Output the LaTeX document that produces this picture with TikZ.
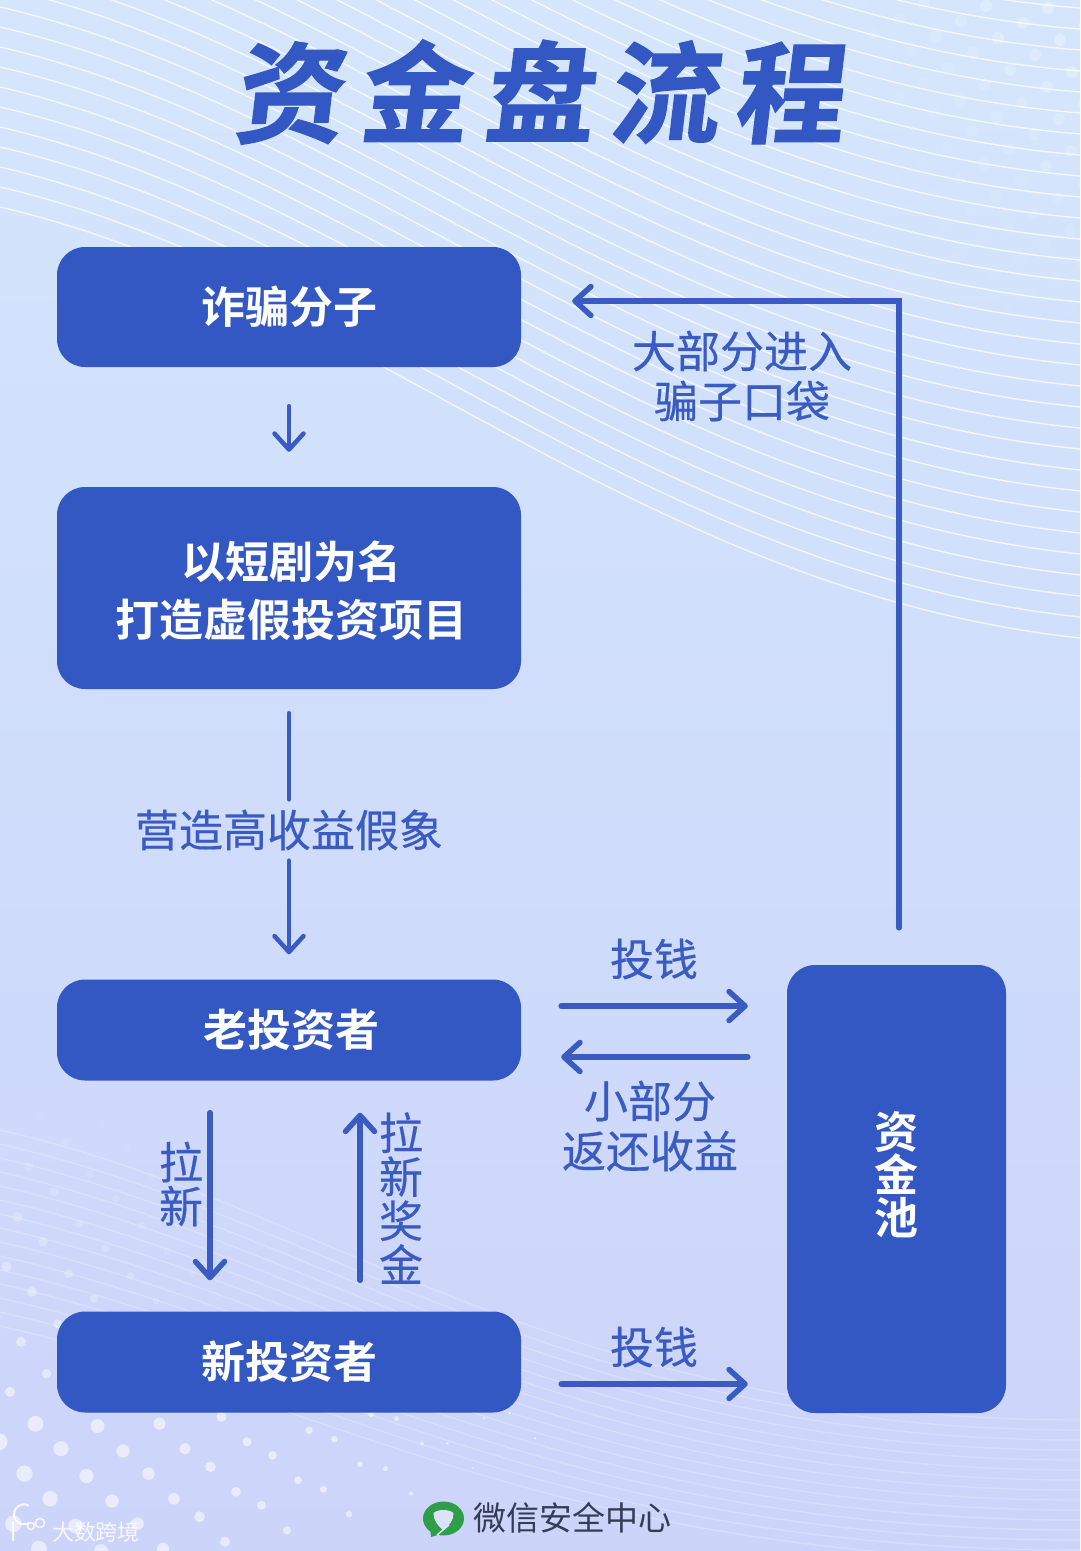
\documentclass[tikz,border=0pt]{standalone}
\usepackage{fontspec}
\usetikzlibrary{arrows.meta,calc}
\setmainfont{Noto Sans CJK SC}
\newfontfamily\cjk[BoldFont={Noto Sans CJK SC Bold}]{Noto Sans CJK SC}
\newfontfamily\cjkm[FakeBold=0.4]{Noto Sans CJK SC}
\newfontfamily\titlef[FakeSlant=0.12,FakeBold=1.2]{Noto Sans CJK SC Bold}
\definecolor{boxblue}{HTML}{3358C4}
\definecolor{lineblue}{HTML}{3A5CC2}
\definecolor{wxgreen}{HTML}{2E9E48}
\definecolor{wxtext}{HTML}{353C55}
\definecolor{bgtop}{HTML}{D5E6FC}
\definecolor{bgmid}{HTML}{CFDDFB}
\definecolor{bgbot}{HTML}{CDD4FA}
\definecolor{wxinner}{HTML}{DDE2FC}
\tikzset{
  x=1pt,y=-1pt,
  flowbox/.style={fill=boxblue,rounded corners=28pt,inner sep=0pt,minimum width=464pt,text=white,font=\cjk\bfseries\fontsize{44}{58}\selectfont,align=center},
  lbl/.style={text=lineblue,font=\cjkm\fontsize{44}{50}\selectfont,align=center,inner sep=0pt},
  arr/.style={draw=lineblue,line width=5.5pt,line cap=round,line join=miter,-{Straight Barb[length=16pt,width=29pt,round]}},
  plainline/.style={draw=lineblue,line width=4.5pt,line cap=round},
  wavy/.style={draw=white,line width=1.4pt,opacity=0.72},
}
\begin{document}
\begin{tikzpicture}
\useasboundingbox (0,0) rectangle (1080,1551);
% background
\shade[top color=bgtop,bottom color=bgmid] (0,0) rectangle (1080,776);
\shade[top color=bgmid,bottom color=bgbot] (0,776) rectangle (1080,1551);
% upper flowing lines
\foreach \i in {0,...,34}{
  \pgfmathsetmacro{\ya}{207-20*\i}
  \pgfmathsetmacro{\yb}{290-20*\i}
  \pgfmathsetmacro{\yc}{590-20.5*\i}
  \pgfmathsetmacro{\yd}{638-21*\i}
  \draw[wavy] (0,\ya) .. controls (360,\yb) and (640,\yc) .. (1080,\yd);
}
% lower faint lines
\foreach \i in {0,...,14}{
  \pgfmathsetmacro{\ya}{1130+14*\i}
  \pgfmathsetmacro{\yb}{1205+14*\i}
  \pgfmathsetmacro{\yc}{1420+10*\i}
  \pgfmathsetmacro{\yd}{1420+10*\i}
  \draw[wavy,opacity=0.22] (0,\ya) .. controls (330,\yb) and (560,\yc) .. (1080,\yd);
}
% upper right dots
\foreach \i in {-6,...,8}{
  \foreach \j in {-4,...,12}{
    \pgfmathsetmacro{\dx}{1060-37*\i+12*\j}
    \pgfmathsetmacro{\dy}{40-17*\i+32*\j}
    \pgfmathsetmacro{\dop}{0.36*max(0,min(1,(\dx-835)/245))*max(0,min(1,1-\dy/340))}
    \pgfmathsetmacro{\dvis}{(\dop>0.01 && \dy>-10) ? 1 : 0}
    \ifnum\dvis=1
      \fill[white,opacity=\dop] (\dx,\dy) circle[radius=6];
    \fi
  }
}
% lower left dots
\foreach \r in {-15,...,4}{
  \foreach \i in {-1,...,8}{
    \pgfmathsetmacro{\dodd}{mod(\r+30,2)}
    \pgfmathsetmacro{\dx}{61-5.5*\r-31*\dodd+62*\i}
    \pgfmathsetmacro{\dy}{1451+25*\r-2.3*(\i-1)*(\i-1)}
    \pgfmathsetmacro{\dr}{max(1.2,8.5-\dx/65)*(\dy<1400?0.6:1)}
    \pgfmathsetmacro{\dop}{0.55*max(0,min(1,(\dy-1080)/300))*max(0,min(1,(\dy<1400?1-\dx/260:1)))}
    \pgfmathsetmacro{\dvis}{(\dop>0.01 && \dx>-10) ? 1 : 0}
    \ifnum\dvis=1
      \fill[white,opacity=\dop] (\dx,\dy) circle[radius=\dr];
    \fi
  }
}
% title
\node (title) at (538,92) {\titlef\fontsize{110}{110}\selectfont\color{boxblue}资\kern15pt金\kern15pt盘\kern15pt流\kern15pt程};
% boxes
\node[flowbox,minimum height=120pt] (b1) at (289,307) {诈骗分子};
\node[flowbox,minimum height=202pt] (b2) at (289,588) {\rule{0pt}{43pt}\kern4pt 以短剧为名\\\kern4pt 打造虚假投资项目};
\node[flowbox,minimum height=101pt] (b3) at (289,1030) {\kern4pt 老投资者};
\node[flowbox,minimum height=101pt] (b4) at (289,1362) {新投资者};
\node[flowbox,minimum width=219pt,minimum height=448pt] (pool) at (896.5,1189) {};
\node[text=white,font=\cjk\bfseries\fontsize{44}{43}\selectfont,align=center,inner sep=0pt] (poolt) at (896,1175) {资\\金\\池};
% labels
\node[lbl] (lhigh) at (289,830) {营造高收益假象};
\node[lbl] (lbig) at (742,376) {大部分进入\\骗子口袋};
\node[lbl] (lin1) at (654,959) {投钱};
\node[lbl] (lback) at (650,1126) {小部分\\返还收益};
\node[lbl] (lin2) at (654,1347) {投钱};
\node[lbl,font=\cjkm\fontsize{44}{44}\selectfont] (lpull) at (181,1184) {拉\\新};
\node[lbl,font=\cjkm\fontsize{44}{44}\selectfont] (lbonus) at (401,1198) {拉\\新\\奖\\金};
% helper coordinates for free ends
\coordinate (ya) at (0,1006);
\coordinate (yb) at (0,1057);
\coordinate (yc) at (0,1384);
\coordinate (xa) at (210,0);
\coordinate (xb) at (360,0);
\coordinate (corner) at (899,301);
% connectors
\draw[arr,line width=4.5pt,shorten <=39pt,shorten >=35pt] (b1.south) -- (b2.north);
\draw[plainline,shorten <=24pt,shorten >=10pt] (b2.south) -- (lhigh.north);
\draw[arr,line width=4.5pt,shorten <=10pt,shorten >=25pt] (lhigh.south) -- (b3.north);
\draw[arr,shorten <=40pt,shorten >=39pt] (b3.east |- ya) -- (pool.west |- ya);
\draw[arr,shorten <=39pt,shorten >=40pt] (pool.west |- yb) -- (b3.east |- yb);
\draw[arr,shorten <=40pt,shorten >=39pt] (b4.east |- yc) -- (pool.west |- yc);
\draw[arr,shorten <=32pt,shorten >=31pt] (xa |- b3.south) -- (xa |- b4.north);
\draw[arr,shorten <=31pt,shorten >=32pt] (xb |- b4.north) -- (xb |- b3.south);
\draw[arr,shorten <=37pt,shorten >=51pt] (corner |- pool.north) -- (corner) -- (b1.east |- corner);
% footer
\node[inner sep=0pt,text=wxtext,font=\cjk\fontsize{33}{33}\selectfont] (wx) at (572,1518) {微信安全中心};
\fill[wxgreen] (443.5,1518.5) ellipse[x radius=20.5,y radius=17];
\fill[wxgreen] (430,1526) -- (431,1537) -- (444,1533) -- cycle;
\fill[wxinner] (433.5,1513) .. controls (438,1509) and (449,1509) .. (453.5,1513) .. controls (454,1520) and (449,1526) .. (443,1530) .. controls (438,1526) and (433,1520) .. (433.5,1513) -- cycle;
\draw[wxinner,line width=1.5pt] (437,1535) -- (449,1525);
\node[inner sep=0pt,text=white,opacity=.85,font=\cjk\fontsize{22}{22}\selectfont] (wm) at (96,1532) {大数跨境};
\draw[white,opacity=.85,line width=2pt] (13,1521) -- (13,1541) (29,1523) arc[start angle=60,end angle=300,radius=10];
\draw[white,opacity=.85,line width=1.5pt] (31,1526) circle[radius=3.5] (40,1523) circle[radius=4.5];
\end{tikzpicture}
\end{document}
